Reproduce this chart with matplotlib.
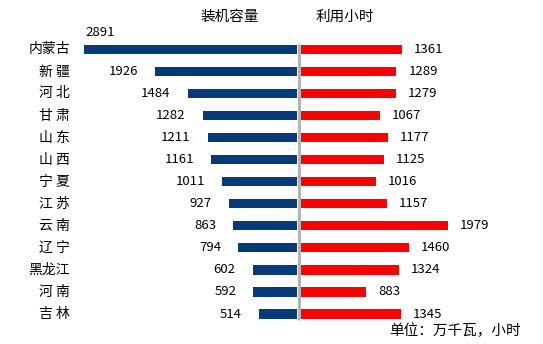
import matplotlib.pyplot as plt
import numpy as np

plt.rcParams['font.family'] = ['Noto Sans CJK SC', 'DejaVu Sans']

# data
provinces = ['内蒙古', '新 疆', '河 北', '甘 肃', '山 东', '山 西', '宁 夏',
             '江 苏', '云 南', '辽 宁', '黑龙江', '河 南', '吉 林']
capacity = [2891, 1926, 1484, 1282, 1211, 1161, 1011, 927, 863, 794, 602, 592, 514]  # 万千瓦
hours = [1361, 1289, 1279, 1067, 1177, 1125, 1016, 1157, 1979, 1460, 1324, 883, 1345]  # 小时

navy = '#063b7b'
red = '#ff0000'

W, H = 543, 344
fig = plt.figure(figsize=(W / 100, H / 100), dpi=100)
ax = fig.add_axes([0, 0, 1, 1])

# pixel mapping: x=0 at 298.5 px, 0.0737 px per unit; row 0 at 49.3 px, 22.06 px per row
xscale = 0.0737
x0 = 298.5
ax.set_xlim(-x0 / xscale, (W - x0) / xscale)
y0, dy = 49.3, 22.06
ax.set_ylim((H - y0) / dy, -y0 / dy)
ax.axis('off')

y = np.arange(len(provinces))
gap = 1.5 / xscale
ax.barh(y, -np.array(capacity), left=-gap, height=0.42, color=navy)
ax.barh(y, np.array(hours) * 1.015, left=gap, height=0.42, color=red)

# center divider line
ax.plot([0, 0], [-0.25, len(provinces) - 1 + 0.25], color='#b4b4b4', lw=2.2, solid_capstyle='butt')

for i, (c, h) in enumerate(zip(capacity, hours)):
    if i == 0:
        ax.text(-c - gap + 2 / xscale, i - 0.75, str(c), ha='left', va='center', fontsize=9.5)
    else:
        ax.text(-c - gap - 17 / xscale, i, str(c), ha='right', va='center', fontsize=9.5)
    ax.text(h * 1.015 + gap + 12 / xscale, i, str(h), ha='left', va='center', fontsize=9.5)

# category labels
for i, p in enumerate(provinces):
    ax.text((70 - x0) / xscale, i, p, ha='right', va='center', fontsize=10)

ax.text((230 - x0) / xscale, (17 - y0) / dy, '装机容量', ha='center', va='center', fontsize=10.5)
ax.text((345 - x0) / xscale, (17 - y0) / dy, '利用小时', ha='center', va='center', fontsize=10.5)
ax.text((455 - x0) / xscale, (331 - y0) / dy, '单位：万千瓦，小时', ha='center', va='center', fontsize=10.5)

fig.savefig('out.png', dpi=100)
